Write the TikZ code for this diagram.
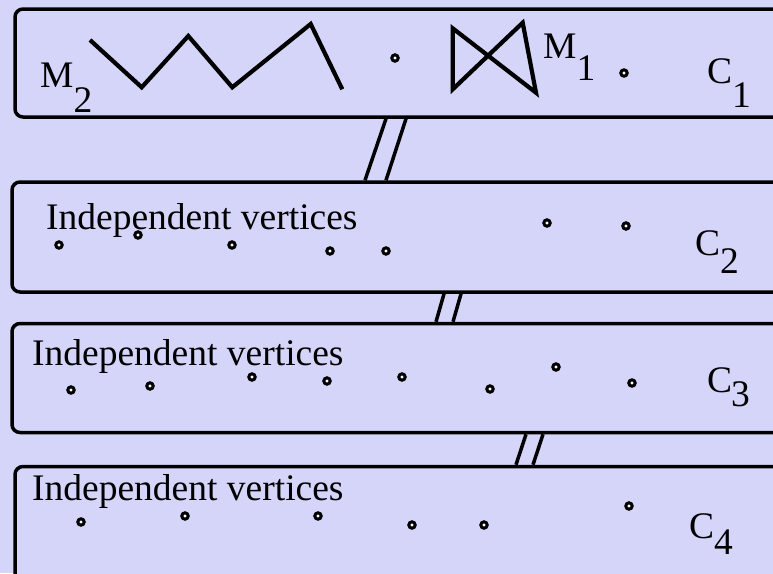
\documentclass[tikz,border=0pt]{standalone}
\usepackage{fontspec}
\setmainfont{Liberation Serif}
\usepackage{tikz}
\definecolor{lilac}{HTML}{D5D5FA}
\newcommand{\dropsub}[2]{\raisebox{-#1pt}{#2}}

\begin{document}
\begin{tikzpicture}[
  x=1pt,y=-1pt,
  font=\fontsize{37.5}{45}\selectfont,
  panel/.style={rectangle,rounded corners=8pt,draw=black,line width=3.5pt,
                fill=lilac,minimum width=780pt,inner sep=0pt},
  lbl/.style={anchor=base west,inner sep=0pt},
  gline/.style={line width=4.2pt},
  brk/.style={line width=3.5pt},
  vtx/.style={draw=black,fill=white,line width=3pt}
]
\clip (0,0) rectangle (773,573);
\fill[lilac] (0,0) rectangle (773,573);

% --- layers
\node[panel,minimum height=108pt]   (c1) at (405,63)    {};
\node[panel,minimum height=110pt]   (c2) at (402,237)   {};
\node[panel,minimum height=109pt]   (c3) at (402,378)   {};
\node[panel,minimum height=130pt]   (c4) at (405,531.5) {};

% --- labels
\node[lbl] (m2)  at (40,87)   {M\dropsub{25}{2}};
\node[lbl] (m1)  at (543,58)  {M\dropsub{22}{1}};
\node[lbl] (lc1) at (707,83)  {C\dropsub{24}{1}};
\node[lbl] (iv2) at (46,229)  {Independent vertices};
\node[lbl] (lc2) at (695,255) {C\dropsub{18}{2}};
\node[lbl] (iv3) at (32,365)  {Independent vertices};
\node[lbl] (lc3) at (707,392) {C\kern-1pt\dropsub{14}{3}};
\node[lbl] (iv4) at (32,500)  {Independent vertices};
\node[lbl] (lc4) at (689,538) {C\dropsub{16}{4}};

% --- M_2 and M_1
\draw[gline] (90,40) -- (141.7,87.3) -- (188.3,36) -- (232.3,87.3)
             -- (310.7,24) -- (342.3,89.3);
\draw[gline] (452.7,28.3) -- (536,92.7) -- (522.7,22.7) -- (452.7,89.3) -- cycle;

% --- vertices
\foreach \p in {(395,58),(624,73),
                (59,245),(138,235),(232,245),(330,251),(386,251),(547,223),(626,226),
                (71,390),(150,386),(252,377),(327,381),(402,377),(490,389),(556,367),(632,383),
                (81,522),(185,516),(318,516),(412,525),(484,525),(629,506)}
  \draw[vtx] \p circle (3.2pt);

% --- breaks between layers
\foreach \up/\dn/\xa/\xb in {c1/c2/386/365, c1/c2/406/386, c2/c3/444/436,
                             c2/c3/461/453, c3/c4/526/516, c3/c4/543/533}
  \draw[brk] (\xa,0 |- \up.south) -- (\xb,0 |- \dn.north);
\end{tikzpicture}
\end{document}
